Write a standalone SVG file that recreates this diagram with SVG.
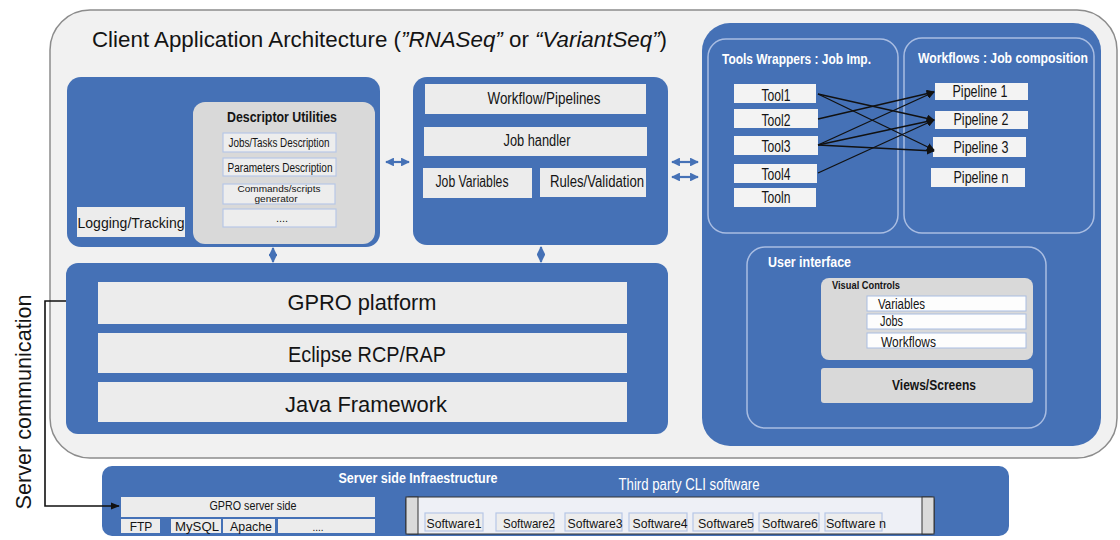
<svg xmlns="http://www.w3.org/2000/svg" width="1120" height="540" viewBox="0 0 1120 540">
<defs>
<style>
.t{font-family:"Liberation Sans",Arial,sans-serif;fill:#141414}
.w{fill:#ffffff}
.b{font-weight:bold}
.blue{fill:#4571b6}
.item{fill:#ededed;stroke:#b7c7e6;stroke-width:1.2}
.tool{fill:#f3f3f3}
.gray{fill:#d9d9d9}
.lite{fill:#ececec}
.outline{fill:none;stroke:#a9bde2;stroke-width:1.5}
.barrow{stroke:#4571b6;stroke-width:2.2;fill:none}
.karrow{stroke:#111;stroke-width:1.3;fill:none}
</style>
<marker id="bh" viewBox="0 0 10 10" refX="9" refY="5" markerWidth="4" markerHeight="4" orient="auto-start-reverse"><path d="M0,0 L10,5 L0,10 z" fill="#4571b6"/></marker>
<marker id="kh" viewBox="0 0 10 10" refX="9" refY="5" markerWidth="8" markerHeight="8" markerUnits="userSpaceOnUse" orient="auto"><path d="M0,0 L10,5 L0,10 z" fill="#111"/></marker>
<marker id="kh2" viewBox="0 0 10 10" refX="9" refY="5" markerWidth="9" markerHeight="9" markerUnits="userSpaceOnUse" orient="auto"><path d="M0,1 L10,5 L0,9 z" fill="#111"/></marker>
</defs>
<rect width="1120" height="540" fill="#ffffff"/>

<g id="client-app">
<rect x="50" y="10" width="1067" height="448" rx="40" fill="#f1f1f1" stroke="#8c8c8c" stroke-width="1.5"/>
<text class="t" x="92" y="47" font-size="22" textLength="575" lengthAdjust="spacingAndGlyphs">Client Application Architecture (<tspan font-style="italic">”RNASeq”</tspan> or <tspan font-style="italic">“VariantSeq”</tspan>)</text>
</g>

<g id="descriptor-panel">
<rect class="blue" x="67" y="77" width="313" height="170" rx="14"/>
<rect class="lite" x="77" y="207" width="108" height="30"/>
<text class="t" x="131" y="228" font-size="15" text-anchor="middle" textLength="107" lengthAdjust="spacingAndGlyphs">Logging/Tracking</text>
<rect class="gray" x="193" y="102" width="182" height="142" rx="12"/>
<text class="t b" x="282" y="122" font-size="15" text-anchor="middle" textLength="110" lengthAdjust="spacingAndGlyphs">Descriptor Utilities</text>
<rect class="item" x="223" y="133" width="113" height="19"/>
<text class="t" x="279" y="147" font-size="12.5" text-anchor="middle" textLength="101" lengthAdjust="spacingAndGlyphs">Jobs/Tasks Description</text>
<rect class="item" x="223" y="158" width="113" height="18"/>
<text class="t" x="280" y="172" font-size="12.5" text-anchor="middle" textLength="105" lengthAdjust="spacingAndGlyphs">Parameters Description</text>
<rect class="item" x="223" y="184" width="112" height="20"/>
<text class="t" x="279" y="191.5" font-size="9" text-anchor="middle" textLength="83" lengthAdjust="spacingAndGlyphs">Commands/scripts</text>
<text class="t" x="276" y="202" font-size="9" text-anchor="middle" textLength="43" lengthAdjust="spacingAndGlyphs">generator</text>
<rect class="item" x="223" y="209" width="113" height="18"/>
<text class="t" x="282" y="222" font-size="11" text-anchor="middle">....</text>
</g>

<g id="job-panel">
<rect class="blue" x="413" y="77" width="255" height="168" rx="14"/>
<rect class="lite" x="425" y="84" width="221" height="30"/>
<text class="t" x="544" y="104" font-size="16" text-anchor="middle" textLength="113" lengthAdjust="spacingAndGlyphs">Workflow/Pipelines</text>
<rect class="lite" x="424" y="127" width="223" height="29"/>
<text class="t" x="537" y="146" font-size="16" text-anchor="middle" textLength="67" lengthAdjust="spacingAndGlyphs">Job handler</text>
<rect class="lite" x="423" y="168" width="109" height="30"/>
<text class="t" x="472" y="187" font-size="16" text-anchor="middle" textLength="73" lengthAdjust="spacingAndGlyphs">Job Variables</text>
<rect class="lite" x="540" y="168" width="106" height="29"/>
<text class="t" x="597" y="187" font-size="16" text-anchor="middle" textLength="94" lengthAdjust="spacingAndGlyphs">Rules/Validation</text>
</g>

<g id="gpro-panel">
<rect class="blue" x="66" y="263" width="602" height="171" rx="12"/>
<rect class="lite" x="98" y="282" width="529" height="42"/>
<text class="t" x="362" y="310" font-size="22" text-anchor="middle" textLength="149" lengthAdjust="spacingAndGlyphs">GPRO platform</text>
<rect class="lite" x="98" y="333" width="529" height="40"/>
<text class="t" x="367" y="362" font-size="22" text-anchor="middle" textLength="158" lengthAdjust="spacingAndGlyphs">Eclipse RCP/RAP</text>
<rect class="lite" x="98" y="382" width="529" height="40"/>
<text class="t" x="366" y="412" font-size="22" text-anchor="middle" textLength="162" lengthAdjust="spacingAndGlyphs">Java Framework</text>
</g>

<g id="right-panel">
<rect class="blue" x="702" y="23" width="399" height="423" rx="28"/>
</g>

<g id="tools-wrappers">
<rect class="outline" x="708" y="39" width="190" height="194" rx="18"/>
<text class="t w b" x="722" y="64" font-size="14" textLength="149" lengthAdjust="spacingAndGlyphs">Tools Wrappers : Job Imp.</text>
<rect class="tool" x="734" y="84" width="82" height="19"/>
<text class="t" x="776" y="101" font-size="16" text-anchor="middle" textLength="29" lengthAdjust="spacingAndGlyphs">Tool1</text>
<rect class="tool" x="734" y="109" width="84" height="19"/>
<text class="t" x="776" y="126" font-size="16" text-anchor="middle" textLength="29" lengthAdjust="spacingAndGlyphs">Tool2</text>
<rect class="tool" x="734" y="136" width="84" height="19"/>
<text class="t" x="776" y="152" font-size="16" text-anchor="middle" textLength="29" lengthAdjust="spacingAndGlyphs">Tool3</text>
<rect class="tool" x="734" y="164" width="83" height="19"/>
<text class="t" x="776" y="180" font-size="16" text-anchor="middle" textLength="29" lengthAdjust="spacingAndGlyphs">Tool4</text>
<rect class="tool" x="734" y="188" width="82" height="19"/>
<text class="t" x="776" y="203" font-size="16" text-anchor="middle" textLength="29" lengthAdjust="spacingAndGlyphs">Tooln</text>
</g>

<g id="workflows">
<rect class="outline" x="904" y="38" width="190" height="195" rx="18"/>
<text class="t w b" x="918" y="63" font-size="14" textLength="170" lengthAdjust="spacingAndGlyphs">Workflows  : Job composition</text>
<rect class="tool" x="935" y="83" width="93" height="17"/>
<text class="t" x="980" y="97" font-size="16" text-anchor="middle" textLength="55" lengthAdjust="spacingAndGlyphs">Pipeline 1</text>
<rect class="tool" x="935" y="111" width="93" height="18"/>
<text class="t" x="981" y="125" font-size="16" text-anchor="middle" textLength="55" lengthAdjust="spacingAndGlyphs">Pipeline 2</text>
<rect class="tool" x="933" y="137" width="93" height="20"/>
<text class="t" x="981" y="153" font-size="16" text-anchor="middle" textLength="55" lengthAdjust="spacingAndGlyphs">Pipeline 3</text>
<rect class="tool" x="931" y="168" width="94" height="19"/>
<text class="t" x="981" y="183" font-size="16" text-anchor="middle" textLength="55" lengthAdjust="spacingAndGlyphs">Pipeline n</text>
</g>

<g id="user-interface">
<rect class="outline" x="747" y="247" width="299" height="181" rx="18"/>
<text class="t w b" x="768" y="267" font-size="14" textLength="83" lengthAdjust="spacingAndGlyphs">User interface</text>
<rect class="gray" x="821" y="278" width="212" height="82" rx="8"/>
<text class="t b" x="832" y="289" font-size="11" textLength="68" lengthAdjust="spacingAndGlyphs">Visual Controls</text>
<rect x="867" y="296" width="159" height="15" fill="#fdfdfd" stroke="#a9bde2" stroke-width="1"/>
<text class="t" x="878" y="309" font-size="14" textLength="47" lengthAdjust="spacingAndGlyphs">Variables</text>
<rect x="867" y="314" width="159" height="15" fill="#fdfdfd" stroke="#a9bde2" stroke-width="1"/>
<text class="t" x="880" y="326" font-size="14" textLength="23" lengthAdjust="spacingAndGlyphs">Jobs</text>
<rect x="867" y="333" width="159" height="15" fill="#fdfdfd" stroke="#a9bde2" stroke-width="1"/>
<text class="t" x="881" y="347" font-size="14" textLength="55" lengthAdjust="spacingAndGlyphs">Workflows</text>
<rect class="gray" x="821" y="368" width="212" height="35" rx="3"/>
<text class="t b" x="934" y="390" font-size="15" text-anchor="middle" textLength="84" lengthAdjust="spacingAndGlyphs">Views/Screens</text>
</g>

<g id="server-side">
<rect class="blue" x="102" y="466" width="907" height="70" rx="10"/>
<text class="t w b" x="418" y="483" font-size="14" text-anchor="middle" textLength="159" lengthAdjust="spacingAndGlyphs">Server side Infraestructure</text>
<rect class="lite" x="121" y="497" width="254" height="20"/>
<text class="t" x="253" y="510" font-size="13" text-anchor="middle" textLength="87" lengthAdjust="spacingAndGlyphs">GPRO server side</text>
<rect class="lite" x="121" y="519" width="39" height="14"/>
<text class="t" x="141" y="531" font-size="12" text-anchor="middle">FTP</text>
<rect class="lite" x="171" y="519" width="50" height="14"/>
<text class="t" x="197" y="531" font-size="12" text-anchor="middle" textLength="44" lengthAdjust="spacingAndGlyphs">MySQL</text>
<rect class="lite" x="223" y="519" width="52" height="14"/>
<text class="t" x="251" y="531" font-size="12" text-anchor="middle" textLength="42" lengthAdjust="spacingAndGlyphs">Apache</text>
<rect class="lite" x="278" y="519" width="97" height="14"/>
<text class="t" x="318" y="531" font-size="10" text-anchor="middle">....</text>
</g>

<g id="third-party">
<text class="t w" x="689" y="490" font-size="16" text-anchor="middle" textLength="141" lengthAdjust="spacingAndGlyphs">Third party CLI software</text>
<rect x="406" y="497" width="528" height="37" rx="3" fill="#eef0f6" stroke="#333" stroke-width="1.2"/>
<rect x="406" y="497" width="12" height="37" fill="#dadada" stroke="#333" stroke-width="1"/>
<rect x="922" y="497" width="12" height="37" fill="#dadada" stroke="#333" stroke-width="1"/>
<rect class="item" x="425" y="513" width="58" height="18"/>
<text class="t" x="454" y="528" font-size="13" text-anchor="middle" textLength="55" lengthAdjust="spacingAndGlyphs">Software1</text>
<rect class="item" x="496" y="513" width="58" height="18"/>
<text class="t" x="529" y="528" font-size="13" text-anchor="middle" textLength="52" lengthAdjust="spacingAndGlyphs">Software2</text>
<rect class="item" x="565" y="513" width="57" height="18"/>
<text class="t" x="595" y="528" font-size="13" text-anchor="middle" textLength="55" lengthAdjust="spacingAndGlyphs">Software3</text>
<rect class="item" x="629" y="513" width="58" height="18"/>
<text class="t" x="660" y="528" font-size="13" text-anchor="middle" textLength="55" lengthAdjust="spacingAndGlyphs">Software4</text>
<rect class="item" x="693" y="513" width="60" height="18"/>
<text class="t" x="726" y="528" font-size="13" text-anchor="middle" textLength="56" lengthAdjust="spacingAndGlyphs">Software5</text>
<rect class="item" x="759" y="513" width="60" height="18"/>
<text class="t" x="790" y="528" font-size="13" text-anchor="middle" textLength="56" lengthAdjust="spacingAndGlyphs">Software6</text>
<rect class="item" x="825" y="513" width="57" height="18"/>
<text class="t" x="856" y="528" font-size="13" text-anchor="middle" textLength="60" lengthAdjust="spacingAndGlyphs">Software n</text>
</g>

<g id="server-communication-label">
<text class="t" transform="translate(31,402) rotate(-90)" font-size="22" text-anchor="middle" textLength="215" lengthAdjust="spacingAndGlyphs">Server  communication</text>
</g>

<g id="connectors">
<line class="barrow" x1="386" y1="162" x2="409" y2="162" marker-start="url(#bh)" marker-end="url(#bh)"/>
<line class="barrow" x1="672" y1="162" x2="698" y2="162" marker-start="url(#bh)" marker-end="url(#bh)"/>
<line class="barrow" x1="672" y1="177" x2="698" y2="177" marker-start="url(#bh)" marker-end="url(#bh)"/>
<line class="barrow" x1="273" y1="248" x2="273" y2="262" marker-start="url(#bh)" marker-end="url(#bh)"/>
<line class="barrow" x1="541" y1="247" x2="541" y2="262" marker-start="url(#bh)" marker-end="url(#bh)"/>
<line class="karrow" x1="818" y1="94" x2="934" y2="120" marker-end="url(#kh)"/>
<line class="karrow" x1="818" y1="94" x2="934" y2="150" marker-end="url(#kh)"/>
<line class="karrow" x1="818" y1="119" x2="934" y2="92" marker-end="url(#kh)"/>
<line class="karrow" x1="818" y1="145" x2="934" y2="92" marker-end="url(#kh)"/>
<line class="karrow" x1="818" y1="145" x2="934" y2="120" marker-end="url(#kh)"/>
<line class="karrow" x1="818" y1="145" x2="934" y2="151" marker-end="url(#kh)"/>
<line class="karrow" x1="818" y1="173" x2="934" y2="120" marker-end="url(#kh)"/>
<path d="M66,301 H45 V506 H119" fill="none" stroke="#111" stroke-width="1.6" marker-end="url(#kh2)"/>
</g>
</svg>
